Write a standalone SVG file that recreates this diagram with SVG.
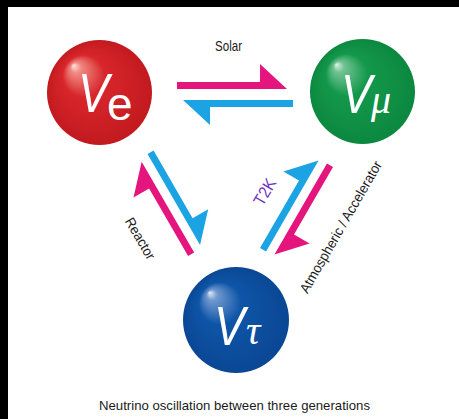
<svg xmlns="http://www.w3.org/2000/svg" width="459" height="419" viewBox="0 0 459 419">
<defs>
<radialGradient id="gRed" cx="0.5" cy="0.5" r="0.5" fx="0.25" fy="0.24">
<stop offset="0" stop-color="#fde6e2"/>
<stop offset="0.1" stop-color="#f08a82"/>
<stop offset="0.4" stop-color="#d8262b"/>
<stop offset="1" stop-color="#c21a1f"/>
</radialGradient>
<radialGradient id="gGreen" cx="0.5" cy="0.5" r="0.5" fx="0.25" fy="0.24">
<stop offset="0" stop-color="#e2f4e8"/>
<stop offset="0.1" stop-color="#72c393"/>
<stop offset="0.4" stop-color="#13984b"/>
<stop offset="1" stop-color="#0c8840"/>
</radialGradient>
<radialGradient id="gBlue" cx="0.5" cy="0.5" r="0.5" fx="0.25" fy="0.24">
<stop offset="0" stop-color="#e2eaf6"/>
<stop offset="0.1" stop-color="#7098cf"/>
<stop offset="0.4" stop-color="#0e55a7"/>
<stop offset="1" stop-color="#0a4794"/>
</radialGradient>
<path id="h110" d="M0,0H83V-18L110,7H0Z"/>
<path id="h105" d="M0,0H78V-18L105,7H0Z"/>
</defs>
<style>
.mg{fill:#e4157d}
.cy{fill:#1ba3e3}
.lbl{font-family:"Liberation Sans",Arial,sans-serif;fill:#1a1a1a}
.sym{font-family:"Liberation Sans",Arial,sans-serif;fill:#fff;font-style:italic;font-size:56px}
.sube{font-family:"Liberation Sans",Arial,sans-serif;font-style:normal;font-size:46px}
.subg{font-family:"Liberation Serif","Times New Roman",serif;font-style:italic;font-size:40px}
</style>
<rect width="459" height="419" fill="#000"/>
<rect x="8" y="7" width="451" height="412" fill="#fff"/>

<g id="connectors">
<use href="#h110" class="mg" transform="translate(177,82)"/>
<use href="#h110" class="cy" transform="translate(293,107) rotate(180)"/>
<use href="#h105" class="mg" transform="translate(188.1,256.1) rotate(240)"/>
<use href="#h105" class="cy" transform="translate(153.6,150.6) rotate(60)"/>
<use href="#h105" class="cy" transform="translate(260,248) rotate(-60)"/>
<use href="#h105" class="mg" transform="translate(333,167) rotate(120)"/>
</g>

<g id="labels">
<text class="lbl" x="228.5" y="50.5" font-size="15" text-anchor="middle" textLength="27" lengthAdjust="spacingAndGlyphs">Solar</text>
<text class="lbl" transform="translate(136.1,240.9) rotate(60)" font-size="14" text-anchor="middle" textLength="46" lengthAdjust="spacingAndGlyphs">Reactor</text>
<text class="lbl" transform="translate(269.8,194.8) rotate(-60)" font-size="17" text-anchor="middle" textLength="28" lengthAdjust="spacingAndGlyphs" style="fill:#7232c2">T2K</text>
<text class="lbl" transform="translate(344.9,229.3) rotate(-60)" font-size="14" text-anchor="middle" textLength="150" lengthAdjust="spacingAndGlyphs">Atmospheric / Accelerator</text>
<text class="lbl" x="234.5" y="410" font-size="13.5" text-anchor="middle" textLength="271" lengthAdjust="spacingAndGlyphs">Neutrino oscillation between three generations</text>
</g>

<g id="node-nu-e">
<circle cx="99.5" cy="92.5" r="52.5" fill="url(#gRed)"/>
<text class="sym" x="78" y="112"><tspan textLength="31" lengthAdjust="spacingAndGlyphs">V</tspan><tspan class="sube" x="107" y="120">e</tspan></text>
</g>
<g id="node-nu-mu">
<circle cx="362.5" cy="91.5" r="52.5" fill="url(#gGreen)"/>
<text class="sym" x="341" y="113"><tspan textLength="31" lengthAdjust="spacingAndGlyphs">V</tspan><tspan class="subg" x="371" y="113">μ</tspan></text>
</g>
<g id="node-nu-tau">
<circle cx="236" cy="320" r="53" fill="url(#gBlue)"/>
<text class="sym" x="214" y="345"><tspan textLength="31" lengthAdjust="spacingAndGlyphs">V</tspan><tspan class="subg" x="246" y="344">τ</tspan></text>
</g>
</svg>
